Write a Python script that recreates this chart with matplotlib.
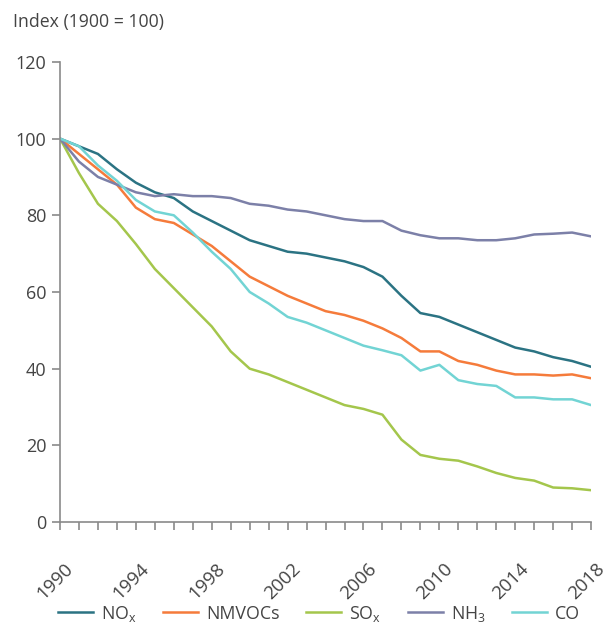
import matplotlib
matplotlib.use("Agg")
import matplotlib.pyplot as plt
from matplotlib.transforms import ScaledTranslation

plt.rcParams['font.family'] = ['Open Sans', 'DejaVu Sans']
plt.rcParams['mathtext.fontset'] = 'custom'
plt.rcParams['mathtext.rm'] = 'Open Sans'
plt.rcParams['mathtext.it'] = 'Open Sans'

years = list(range(1990, 2019))
nox = [100, 98, 96, 92, 88.5, 86, 84.5, 81, 78.5, 76, 73.5, 72, 70.5, 70, 69, 68, 66.5, 64,
       59, 54.5, 53.5, 51.5, 49.5, 47.5, 45.5, 44.5, 43, 42, 40.5]
nmvoc = [100, 96, 92, 88, 82, 79, 78, 75, 72, 68, 64, 61.5, 59, 57, 55, 54, 52.5, 50.5,
         48, 44.5, 44.5, 42, 41, 39.5, 38.5, 38.5, 38.2, 38.5, 37.5]
sox = [100, 91, 83, 78.5, 72.5, 66, 61, 56, 51, 44.5, 40, 38.5, 36.5, 34.5, 32.5, 30.5, 29.5, 28,
       21.5, 17.5, 16.5, 16, 14.5, 12.8, 11.5, 10.8, 9, 8.8, 8.3]
nh3 = [100, 94, 90, 88, 86, 85, 85.5, 85, 85, 84.5, 83, 82.5, 81.5, 81, 80, 79, 78.5, 78.5,
       76, 74.8, 74, 74, 73.5, 73.5, 74, 75, 75.2, 75.5, 74.5]
co = [100, 98, 93, 89, 84, 81, 80, 75.5, 70.5, 66, 60, 57, 53.5, 52, 50, 48, 46, 44.8,
      43.5, 39.5, 41, 37, 36, 35.5, 32.5, 32.5, 32, 32, 30.5]

series = [
    (r'$\mathregular{NO_x}$', nox, '#2b7383'),
    ('NMVOCs', nmvoc, '#f57b3b'),
    (r'$\mathregular{SO_x}$', sox, '#a4c64c'),
    (r'$\mathregular{NH_3}$', nh3, '#7c80a8'),
    ('CO', co, '#72d4d4'),
]

fig = plt.figure(figsize=(6.10, 6.32), dpi=100)
ax = fig.add_axes([0.0984, 0.174, 0.8706, 0.728])

for label, vals, col in series:
    ax.plot(years, vals, color=col, lw=1.8, label=label)

ax.set_xlim(1990, 2018)
ax.set_ylim(0, 120)
ax.set_yticks(range(0, 121, 20))
ax.set_xticks(years)
ax.set_xticklabels([str(y) if (y - 1990) % 4 == 0 else '' for y in years],
                   rotation=45, ha='right', va='top', rotation_mode='anchor')
for s in ['top', 'right']:
    ax.spines[s].set_visible(False)
for s in ['left', 'bottom']:
    ax.spines[s].set_color('#8a8a8a')
    ax.spines[s].set_linewidth(1.2)
ax.tick_params(axis='both', colors='#8a8a8a', length=6, width=1.2, labelcolor='#444444', labelsize=13)
ax.tick_params(axis='y', pad=4)
ax.tick_params(axis='x', pad=21, labelsize=13.5)
off = ScaledTranslation(4 / 100, 0, fig.dpi_scale_trans)
for lab in ax.get_xticklabels():
    lab.set_transform(lab.get_transform() + off)

fig.text(0.022, 0.965, 'Index (1900 = 100)', fontsize=12.7, color='#444444', ha='left', va='center')

fig.legend(loc='center', bbox_to_anchor=(0.523, 0.029), ncol=5, frameon=False,
           fontsize=12.8, handlelength=1.97, columnspacing=1.5, handletextpad=0.45,
           labelcolor='#444444')

fig.savefig('out.png', dpi=100)
